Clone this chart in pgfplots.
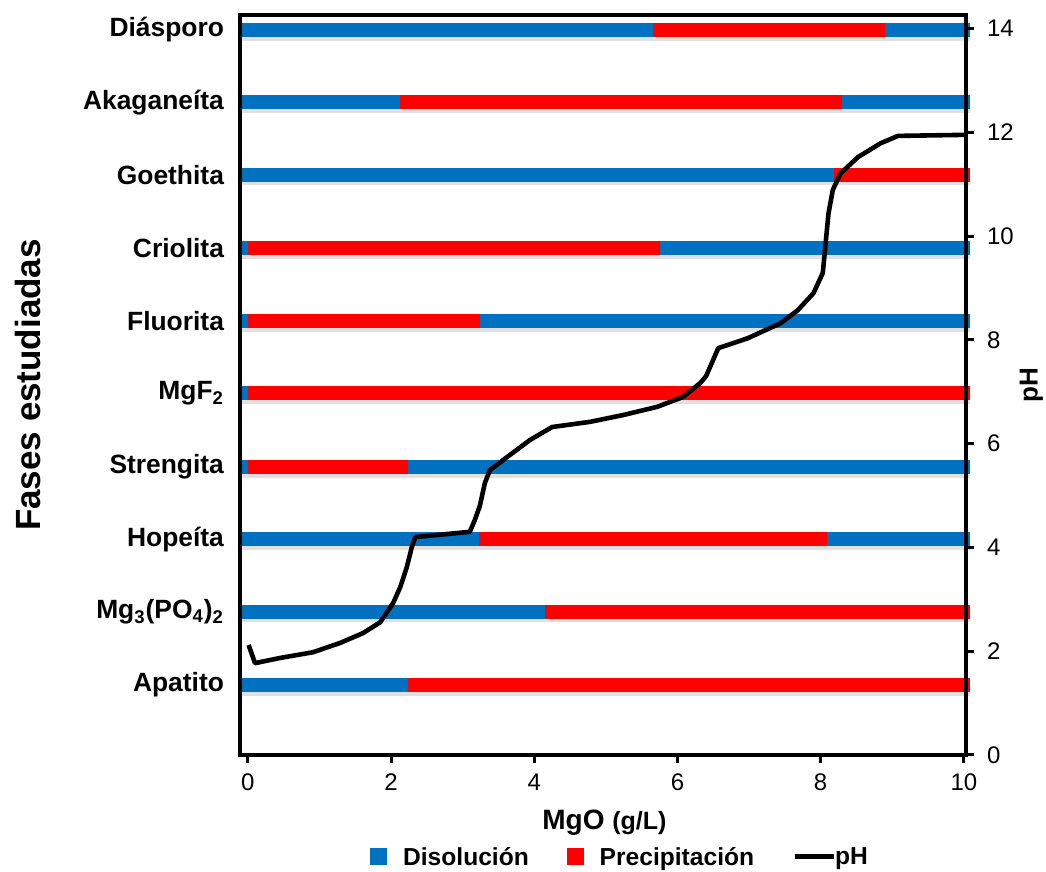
\documentclass[border=0pt]{standalone}
\usepackage{pgfplots}
\pgfplotsset{compat=1.18}
\usepackage{fontspec}
\setmainfont{Liberation Sans}
\definecolor{dblue}{HTML}{0070C0}
\definecolor{dred}{HTML}{FF0000}
\pgfplotsset{
  bar/.style={line width=7pt, forget plot},
  shd/.style={line width=7pt, draw=black!40, opacity=0.3, forget plot},
}
\begin{document}
\begin{tikzpicture}
\path[use as bounding box] (-120pt,-58.5pt) rectangle (403pt,377.5pt);
\begin{axis}[
  at={(0,0)}, anchor=south west, scale only axis,
  width=363pt, height=370pt,
  xmin=-0.11, xmax=10.03, ymin=0, ymax=14.26,
  clip=false, axis on top,
  axis line style={line width=2pt},
  xtick=\empty,
  ytick={1.35,2.76,4.16,5.55,6.97,8.36,9.77,11.18,12.58,13.97},
  yticklabels={Apatito\hspace{-1pt}, Mg\textsubscript{3}(PO\textsubscript{4})\textsubscript{2}\hspace{4.5pt}, Hopeíta\hspace{6pt}, Strengita\hspace{1pt}, MgF\textsubscript{2}\hspace{2.5pt}, Fluorita\hspace{1pt}, Criolita\hspace{5pt}, Goethita\hspace{4pt}, Akaganeíta, Diásporo},
  major tick length=0pt,
  yticklabel style={font=\bfseries\fontsize{13.2}{15}\selectfont, xshift=-4.5pt},
  ylabel={Fases estudiadas},
  ylabel style={at={(rel axis cs:-0.2916,0.5)}, anchor=center, rotate=0, font=\bfseries\fontsize{17.5}{20}\selectfont},
]
% shadows
\addplot[shd] coordinates {(-0.11,13.90) (10.08,13.90)};
\addplot[shd] coordinates {(-0.11,12.51) (10.08,12.51)};
\addplot[shd] coordinates {(-0.11,11.11) (10.08,11.11)};
\addplot[shd] coordinates {(-0.11,9.70) (10.08,9.70)};
\addplot[shd] coordinates {(-0.11,8.29) (10.08,8.29)};
\addplot[shd] coordinates {(-0.11,6.90) (10.08,6.90)};
\addplot[shd] coordinates {(-0.11,5.48) (10.08,5.48)};
\addplot[shd] coordinates {(-0.11,4.09) (10.08,4.09)};
\addplot[shd] coordinates {(-0.11,2.69) (10.08,2.69)};
\addplot[shd] coordinates {(-0.11,1.28) (10.08,1.28)};
% Diasporo
\addplot[bar, draw=dblue] coordinates {(-0.11,13.97) (5.66,13.97)};
\addplot[bar, draw=dred]  coordinates {(5.66,13.97) (8.90,13.97)};
\addplot[bar, draw=dblue] coordinates {(8.90,13.97) (10.08,13.97)};
% Akaganeita
\addplot[bar, draw=dblue] coordinates {(-0.11,12.58) (2.12,12.58)};
\addplot[bar, draw=dred]  coordinates {(2.12,12.58) (8.30,12.58)};
\addplot[bar, draw=dblue] coordinates {(8.30,12.58) (10.08,12.58)};
% Goethita
\addplot[bar, draw=dblue] coordinates {(-0.11,11.18) (8.18,11.18)};
\addplot[bar, draw=dred]  coordinates {(8.18,11.18) (10.08,11.18)};
% Criolita
\addplot[bar, draw=dblue] coordinates {(-0.11,9.77) (0.0,9.77)};
\addplot[bar, draw=dred]  coordinates {(0.0,9.77) (5.75,9.77)};
\addplot[bar, draw=dblue] coordinates {(5.75,9.77) (10.08,9.77)};
% Fluorita
\addplot[bar, draw=dblue] coordinates {(-0.11,8.36) (0.0,8.36)};
\addplot[bar, draw=dred]  coordinates {(0.0,8.36) (3.24,8.36)};
\addplot[bar, draw=dblue] coordinates {(3.24,8.36) (10.08,8.36)};
% MgF2
\addplot[bar, draw=dblue] coordinates {(-0.11,6.97) (0.0,6.97)};
\addplot[bar, draw=dred]  coordinates {(0.0,6.97) (10.08,6.97)};
% Strengita
\addplot[bar, draw=dblue] coordinates {(-0.11,5.55) (0.0,5.55)};
\addplot[bar, draw=dred]  coordinates {(0.0,5.55) (2.23,5.55)};
\addplot[bar, draw=dblue] coordinates {(2.23,5.55) (10.08,5.55)};
% Hopeita
\addplot[bar, draw=dblue] coordinates {(-0.11,4.16) (3.23,4.16)};
\addplot[bar, draw=dred]  coordinates {(3.23,4.16) (8.09,4.16)};
\addplot[bar, draw=dblue] coordinates {(8.09,4.16) (10.08,4.16)};
% Mg3(PO4)2
\addplot[bar, draw=dblue] coordinates {(-0.11,2.76) (4.15,2.76)};
\addplot[bar, draw=dred]  coordinates {(4.15,2.76) (10.08,2.76)};
% Apatito
\addplot[bar, draw=dblue] coordinates {(-0.11,1.35) (2.24,1.35)};
\addplot[bar, draw=dred]  coordinates {(2.24,1.35) (10.08,1.35)};
\end{axis}

\begin{axis}[
  at={(0,0)}, anchor=south west, scale only axis,
  width=363pt, height=370pt,
  xmin=-0.11, xmax=10.03, ymin=0, ymax=14.26,
  clip=false,
  axis x line*=bottom, axis y line*=right,
  axis line style={line width=2pt, -},
  xtick={0,2,...,10}, ytick={0,2,...,14},
  tick align=outside, major tick length=4pt,
  tick style={line width=1.5pt, black},
  /pgf/number format/assume math mode=true,
  ticklabel style={font=\fontsize{12}{14}\selectfont},
  yticklabel style={xshift=3pt},
  xticklabel style={yshift=-2pt},
  xlabel={\fontsize{14}{16}\selectfont MgO \fontsize{12.5}{16}\selectfont(g/L)},
  xlabel style={at={(rel axis cs:0.502,-0.092)}, anchor=center, font=\bfseries},
  ylabel={pH},
  ylabel style={at={(rel axis cs:1.090,0.5)}, anchor=center, rotate=0, font=\bfseries\fontsize{13}{15}\selectfont},
  legend style={at={(rel axis cs:0.525,-0.139)}, anchor=center, draw=none, fill=none,
    legend columns=3, font=\bfseries\fontsize{12.3}{14}\selectfont,
    /tikz/every even column/.append style={column sep=17pt},
    /tikz/column 4/.style={column sep=9pt},
    /tikz/every odd column/.append style={column sep=0pt}},
]
\addlegendimage{legend image code/.code={\fill[dblue] (0pt,-3.5pt) rectangle (8pt,4.5pt); \path (14pt,0pt);}}
\addlegendentry{Disolución}
\addlegendimage{legend image code/.code={\fill[dred] (0pt,-3.5pt) rectangle (8pt,4.5pt); \path (14pt,0pt);}}
\addlegendentry{Precipitación}
\addplot[black, line width=2.3pt, line join=round,
  legend image code/.code={\draw[black, line width=2.5pt] (0pt,0.5pt) -- (17pt,0.5pt); \draw[overlay, black, line width=2.5pt] (17pt,0.5pt) -- (19.5pt,0.5pt);}]
 coordinates {(0.01,2.12) (0.10,1.77) (0.45,1.87) (0.91,1.98) (1.29,2.16) (1.61,2.35) (1.85,2.56) (2.03,2.93) (2.13,3.24) (2.22,3.62) (2.29,4.01) (2.34,4.20) (3.10,4.30) (3.17,4.53) (3.24,4.80) (3.31,5.24) (3.38,5.49) (3.62,5.74) (3.94,6.07) (4.25,6.32) (4.78,6.42) (5.24,6.55) (5.72,6.71) (6.08,6.90) (6.32,7.17) (6.40,7.30) (6.57,7.84) (6.98,8.03) (7.44,8.32) (7.68,8.57) (7.90,8.90) (8.03,9.29) (8.07,9.87) (8.11,10.44) (8.17,10.89) (8.28,11.21) (8.52,11.52) (8.84,11.79) (9.08,11.93) (10.0,11.95)};
\addlegendentry{pH}
\end{axis}
\end{tikzpicture}
\end{document}
